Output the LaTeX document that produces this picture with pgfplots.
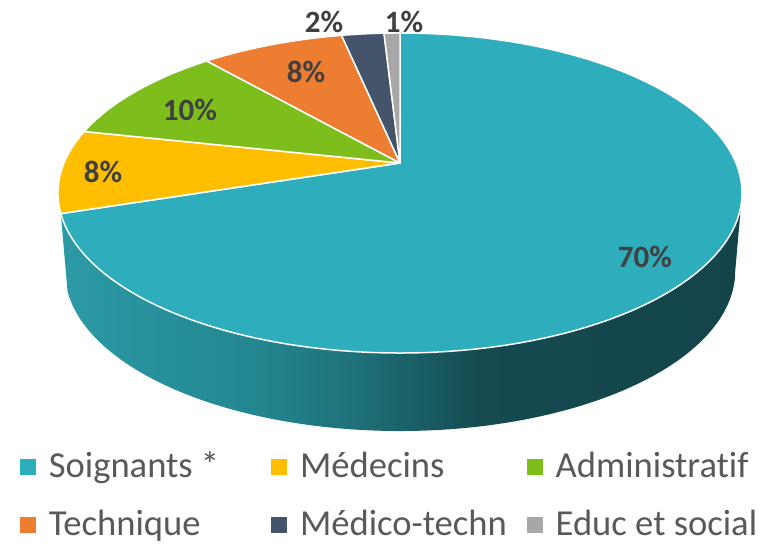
\documentclass[border=0pt]{standalone}
\usepackage{pgfplots}
\pgfplotsset{compat=1.18}
\usepackage{pgfplotstable}
\usepackage{fontspec}
\setmainfont{Carlito}[Ligatures={NoCommon}]

\definecolor{cSoig}{HTML}{2EADBC}
\definecolor{cMed}{HTML}{FFBF00}
\definecolor{cAdm}{HTML}{7DBE1D}
\definecolor{cTech}{HTML}{ED7D31}
\definecolor{cMT}{HTML}{44546A}
\definecolor{cEdu}{HTML}{A8A6A6}
\definecolor{lbl}{HTML}{404040}
\definecolor{legtext}{HTML}{595959}
\definecolor{sA}{HTML}{2C9AA5}
\definecolor{sB}{HTML}{238791}
\definecolor{sC}{HTML}{1F727A}
\definecolor{sD}{HTML}{185A61}
\definecolor{sE}{HTML}{144A50}
\definecolor{sF}{HTML}{134449}

\pgfdeclarehorizontalshading{sideshade}{100bp}{color(0bp)=(sA); color(25bp)=(sA); color(38.9bp)=(sB); color(46.25bp)=(sC); color(52.1bp)=(sD); color(55.8bp)=(sE); color(75bp)=(sF); color(100bp)=(sF)}

% shares of staff (percent)
\pgfplotstableread{
cat value
Soignants 70.0
Medecins 8.4
Administratif 10.2
Technique 8.1
Medicotechn 2.4
Educ 0.9
}\piedata

\pgfplotstablegetelem{0}{value}\of\piedata \pgfmathsetmacro\vA{\pgfplotsretval}
\pgfplotstablegetelem{1}{value}\of\piedata \pgfmathsetmacro\vB{\pgfplotsretval}
\pgfplotstablegetelem{2}{value}\of\piedata \pgfmathsetmacro\vC{\pgfplotsretval}
\pgfplotstablegetelem{3}{value}\of\piedata \pgfmathsetmacro\vD{\pgfplotsretval}
\pgfplotstablegetelem{4}{value}\of\piedata \pgfmathsetmacro\vE{\pgfplotsretval}
\pgfplotstablegetelem{5}{value}\of\piedata \pgfmathsetmacro\vF{\pgfplotsretval}
\pgfmathsetmacro\tot{\vA+\vB+\vC+\vD+\vE+\vF}
\pgfmathsetmacro\aA{0}
\pgfmathsetmacro\aB{\aA+\vA/\tot*360}
\pgfmathsetmacro\aC{\aB+\vB/\tot*360}
\pgfmathsetmacro\aD{\aC+\vC/\tot*360}
\pgfmathsetmacro\aE{\aD+\vD/\tot*360}
\pgfmathsetmacro\aF{\aE+\vE/\tot*360}
\pgfmathsetmacro\aG{\aF+\vF/\tot*360}

% perspective projection of the pie rim (angle clockwise from top)
\newcommand\PX[1]{400+336*sin(#1)/(1+0.1875*cos(#1))}
\newcommand\PY[1]{163-154.4*cos(#1)/(1+0.1875*cos(#1))}
\newcommand\BX[1]{400+0.98*336*sin(#1)/(1+0.1875*cos(#1))}
\newcommand\BY[1]{241-154.4*cos(#1)/(1+0.1875*cos(#1))}

\newcommand\slice[3]{%
  \fill[#3, draw=white, line width=0.75bp, line join=round]
    (axis cs:400,163) -- plot[domain=#1:#2, samples=120, variable=\t]
    (axis cs:{\PX{\t}},{\PY{\t}}) -- cycle;}

\begin{document}
\begin{tikzpicture}
\begin{axis}[
  hide axis, scale only axis, width=381bp, height=272bp,
  xmin=0, xmax=762, ymin=0, ymax=544, y dir=reverse, clip=false,
  legend columns=3,
  legend cell align=left,
  legend image code/.code={\fill[#1] (0bp,-3.75bp) rectangle (7.5bp,3.75bp);},
  legend style={at={(axis cs:20,452)}, anchor=north west, draw=none, fill=none,
    inner sep=0pt, outer sep=0pt,
    font=\fontsize{18.3bp}{21bp}\selectfont, text=legtext,
    row sep=14.8bp,
    nodes={inner sep=0pt},
    /tikz/every odd column/.style={column sep=6.5bp},
    /tikz/column 2/.style={column sep=26bp},
    /tikz/column 4/.style={column sep=10bp}},
]
\path (axis cs:0,0) rectangle (axis cs:762,544);
% side of the pie
\shade[shading=sideshade]
  plot[domain=100.8:\aB, samples=120, variable=\t] (axis cs:{\PX{\t}},{\PY{\t}})
  -- plot[domain=\aB:100.8, samples=120, variable=\t] (axis cs:{\BX{\t}},{\BY{\t}})
  -- cycle;
% top face
\slice{\aA}{\aB}{cSoig}
\slice{\aB}{\aC}{cMed}
\slice{\aC}{\aD}{cAdm}
\slice{\aD}{\aE}{cTech}
\slice{\aE}{\aF}{cMT}
\slice{\aF}{\aG}{cEdu}
% data labels
\begin{scope}[every node/.style={font=\fontsize{15.5bp}{18bp}\selectfont\bfseries, text=lbl, inner sep=0pt}]
\node at (axis cs:645,257) {70\%};
\node at (axis cs:103,172) {8\%};
\node at (axis cs:190,110) {10\%};
\node at (axis cs:306,72) {8\%};
\node at (axis cs:324,22) {2\%};
\node at (axis cs:404,22) {1\%};
\end{scope}
\addlegendimage{cSoig}
\addlegendimage{cMed}
\addlegendimage{cAdm}
\addlegendimage{cTech}
\addlegendimage{cMT}
\addlegendimage{cEdu}
\legend{Soignants *, Médecins, Administratif, Technique, Médico-techn, Educ et social}
\end{axis}
\end{tikzpicture}
\end{document}
